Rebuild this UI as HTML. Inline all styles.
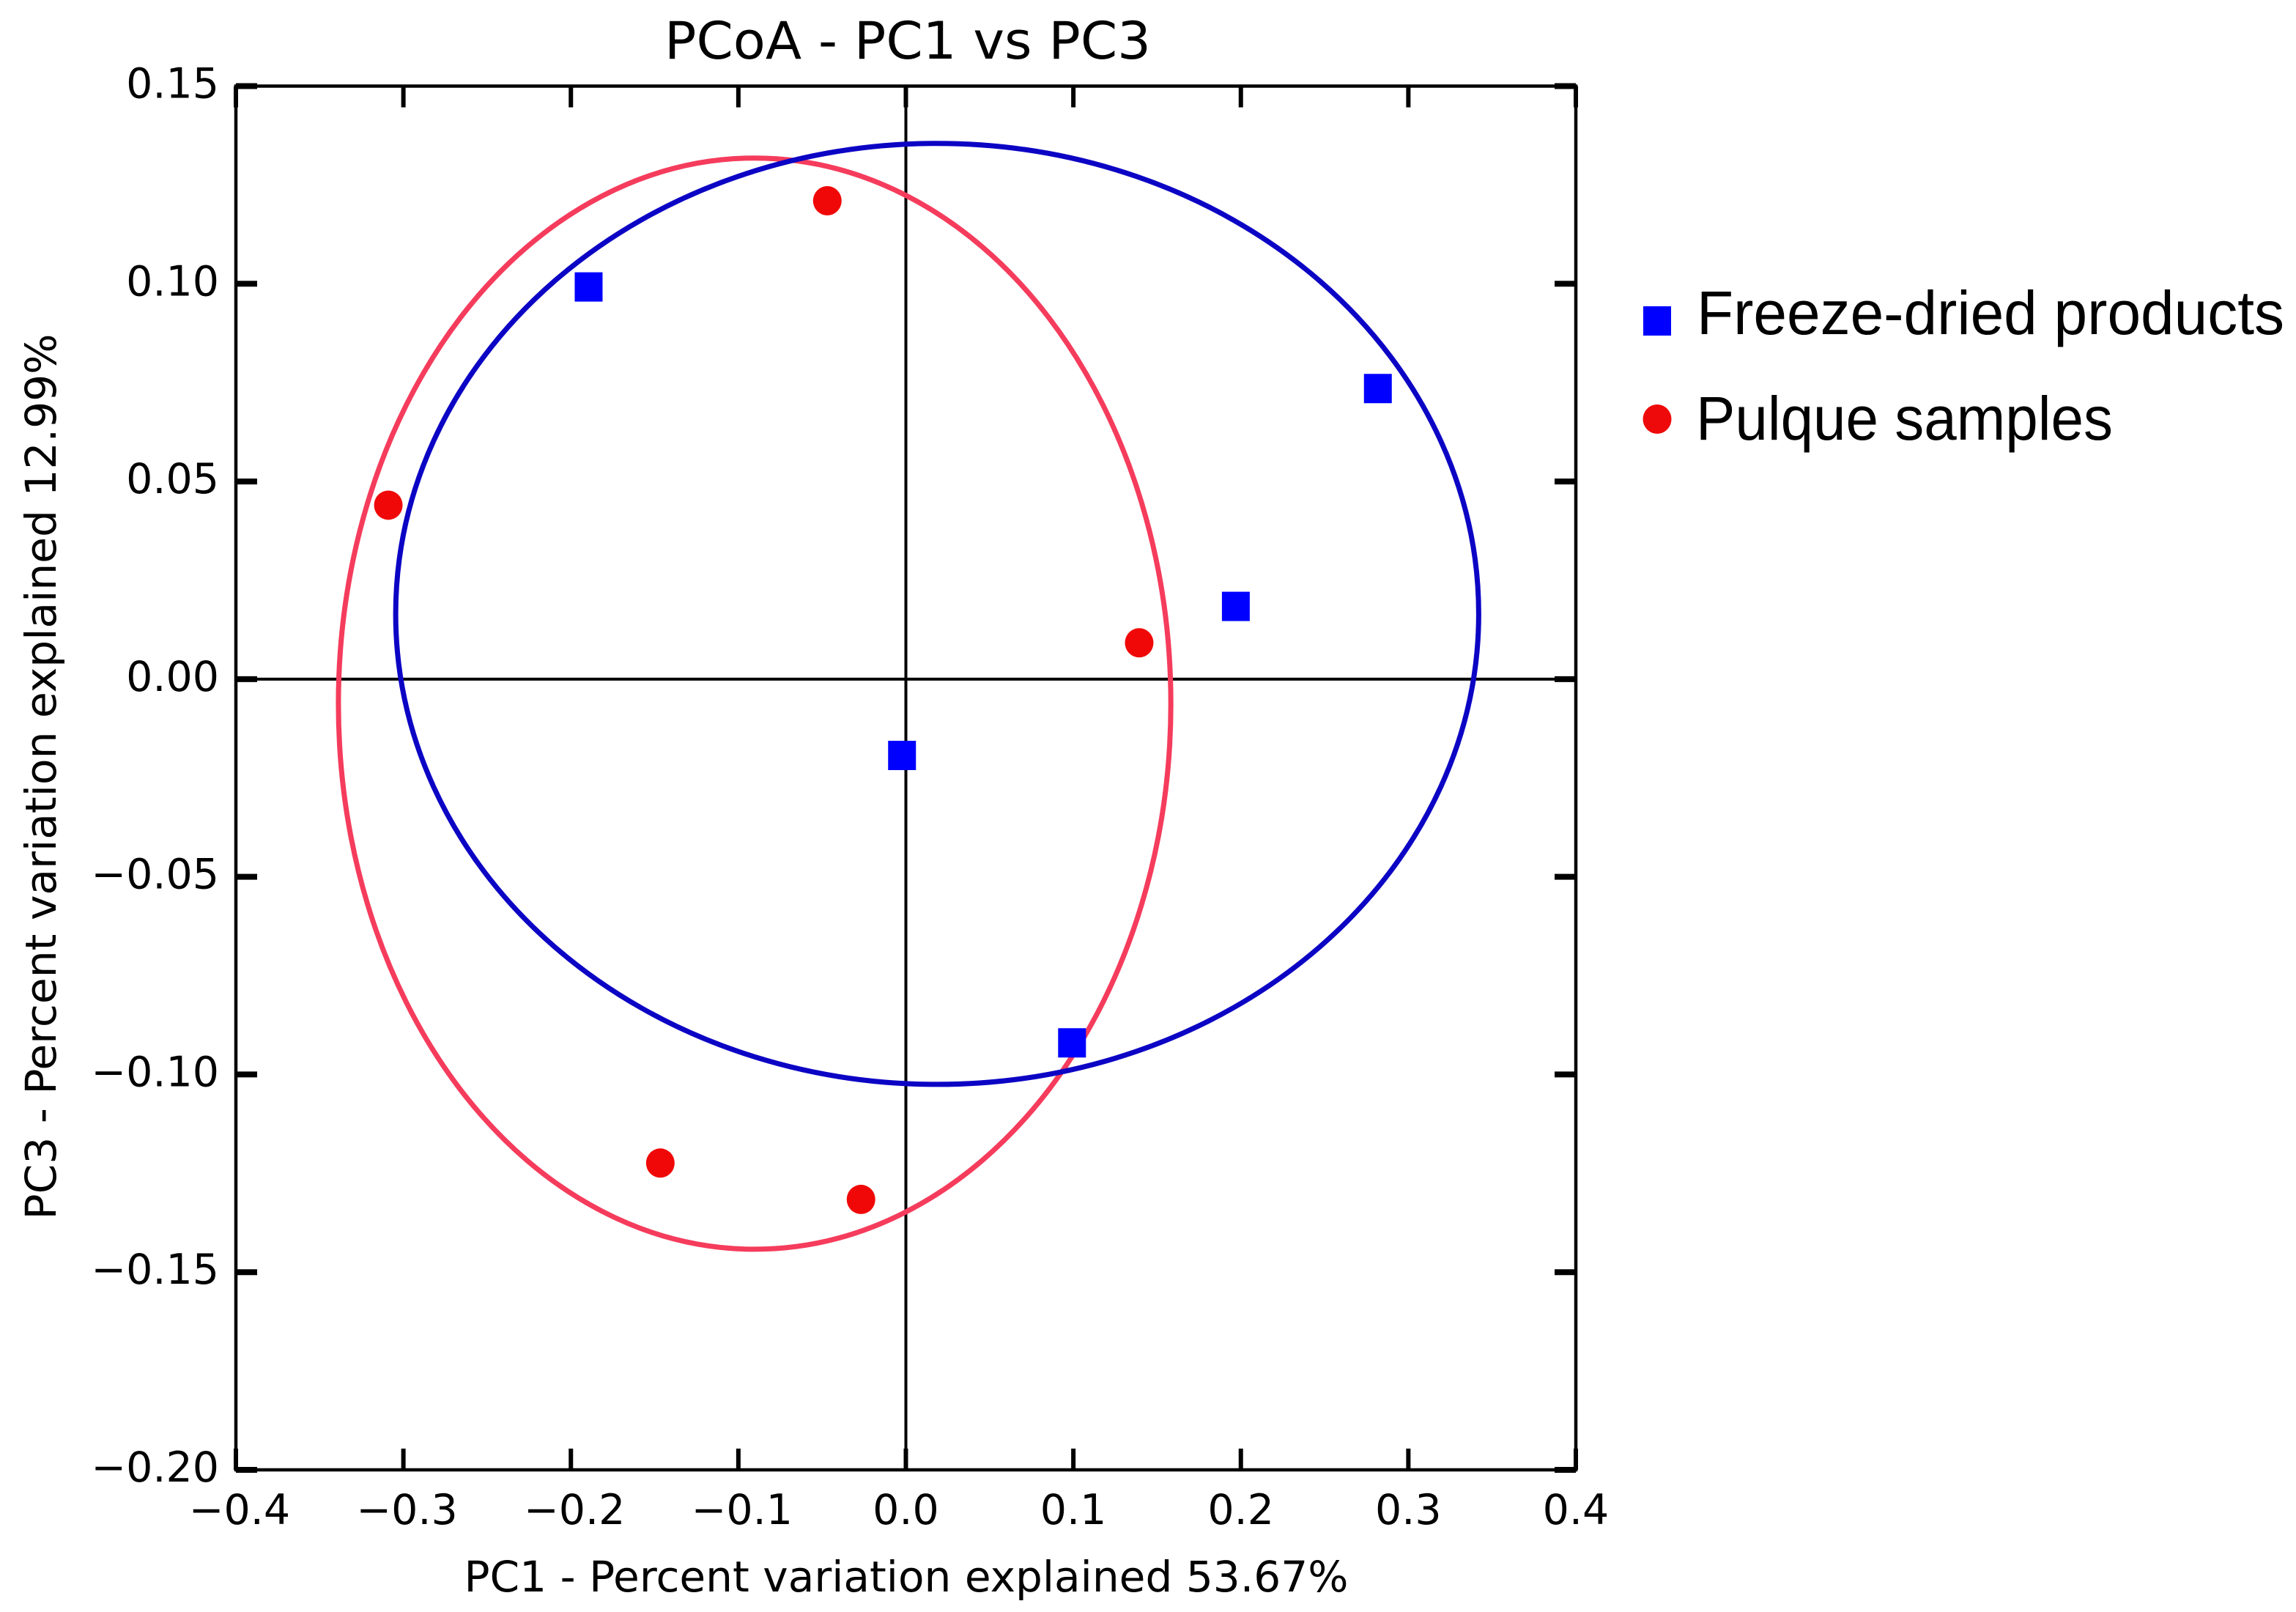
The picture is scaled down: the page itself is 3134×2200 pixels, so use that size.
<!DOCTYPE html>
<html lang="en">
<head>
<meta charset="utf-8">
<title>PCoA - PC1 vs PC3</title>
<style>
html,body{margin:0;padding:0;background:#fff;width:3134px;height:2200px;overflow:hidden}
svg{display:block}
text{font-family:"DejaVu Sans","Liberation Sans",sans-serif;fill:#000}
.legend-text{font-family:"Liberation Sans",sans-serif}
</style>
</head>
<body>
<svg id="chart" xmlns="http://www.w3.org/2000/svg" width="3134" height="2200" viewBox="0 0 3134 2200">
  <rect x="0" y="0" width="3134" height="2200" fill="#fff"/>
  <g id="plot"></g>
  <text x="1239" y="80" font-size="70" text-anchor="middle" textLength="664" lengthAdjust="spacingAndGlyphs">PCoA - PC1 vs PC3</text>
  <text x="1237" y="2172" font-size="58" text-anchor="middle" textLength="1207" lengthAdjust="spacingAndGlyphs">PC1 - Percent variation explained 53.67%</text>
  <text transform="translate(76 1060) rotate(-90)" x="0" y="0" font-size="58" text-anchor="middle" textLength="1209" lengthAdjust="spacingAndGlyphs">PC3 - Percent variation explained 12.99%</text>
  <g>
    <rect x="2243" y="418" width="38" height="40" fill="#0000ff"/>
    <text class="legend-text" x="2316" y="456" font-size="84" textLength="802" lengthAdjust="spacingAndGlyphs">Freeze-dried products</text>
    <ellipse cx="2262" cy="572" rx="19.5" ry="20" fill="#ee0a0a"/>
    <text class="legend-text" x="2315" y="600" font-size="84" textLength="569" lengthAdjust="spacingAndGlyphs">Pulque samples</text>
  </g>
</svg>
<script>
const xTicks = [-0.4, -0.3, -0.2, -0.1, 0.0, 0.1, 0.2, 0.3, 0.4];
const xTickLabels = ['\u22120.4', '\u22120.3', '\u22120.2', '\u22120.1', '0.0', '0.1', '0.2', '0.3', '0.4'];
const yTicks = [0.15, 0.10, 0.05, 0.00, -0.05, -0.10, -0.15, -0.20];
const yTickLabels = ['0.15', '0.10', '0.05', '0.00', '\u22120.05', '\u22120.10', '\u22120.15', '\u22120.20'];

const freezeDriedPc1 = [-0.1894, 0.2818, 0.1970, -0.0023, 0.0992];
const freezeDriedPc3 = [0.0992, 0.0735, 0.0184, -0.0193, -0.0920];
const pulquePc1 = [-0.0469, -0.3090, 0.1393, -0.1466, -0.0268];
const pulquePc3 = [0.1210, 0.0440, 0.0092, -0.1224, -0.1316];

const freezeDriedEllipse = [0.0187, 0.0165, 0.3233, 0.1190];
const pulqueEllipse = [-0.0903, -0.0062, 0.2485, 0.1380];

const xMin = -0.4, xMax = 0.4, yMin = -0.2, yMax = 0.15;
const plotLeft = 322, plotRight = 2151, plotTop = 117.5, plotBottom = 2006;

function sx(v) { return plotLeft + (v - xMin) / (xMax - xMin) * (plotRight - plotLeft); }
function sy(v) { return plotBottom - (v - yMin) / (yMax - yMin) * (plotBottom - plotTop); }

const plot = document.getElementById('plot');
const NS = 'http://www.w3.org/2000/svg';
function mk(tag, attrs) {
  const node = document.createElementNS(NS, tag);
  for (const k in attrs) node.setAttribute(k, attrs[k]);
  plot.appendChild(node);
  return node;
}
function line(x1, y1, x2, y2, w, c) {
  return mk('line', { x1: x1, y1: y1, x2: x2, y2: y2, stroke: c || '#000', 'stroke-width': w });
}

let el;
el = line(plotLeft, sy(0), plotRight, sy(0), 4);


el = line(sx(0), plotTop, sx(0), plotBottom, 4);



function drawEllipse(spec, color, name) {
  const e = mk('ellipse', {
    cx: sx(spec[0]), cy: sy(spec[1]),
    rx: Math.abs(sx(spec[0] + spec[2]) - sx(spec[0])),
    ry: Math.abs(sy(spec[1] + spec[3]) - sy(spec[1])),
    fill: 'none', stroke: color, 'stroke-width': 7
  });
  
  
}
drawEllipse(pulqueEllipse, '#f53c5c', 'ellipse-pulque-samples');
drawEllipse(freezeDriedEllipse, '#0c04c4', 'ellipse-freeze-dried');

el = mk('rect', { x: plotLeft, y: plotTop, width: plotRight - plotLeft, height: plotBottom - plotTop, fill: 'none', stroke: '#000', 'stroke-width': 4.5 });



xTicks.forEach(function (v, i) {
  const x = sx(v);
  let t = line(x, plotBottom, x, plotBottom - 29, 6);
  
  
  t = line(x, plotTop, x, plotTop + 29, 6);
  
  
  const label = mk('text', { x: x + (v < 0 ? 5 : 0), y: 2080, 'font-size': 57, 'text-anchor': 'middle' });
  label.textContent = xTickLabels[i];
  
  
});

yTicks.forEach(function (v, i) {
  const y = sy(v);
  let t = line(plotLeft, y, plotLeft + 29, y, 8);
  
  
  t = line(plotRight, y, plotRight - 29, y, 8);
  
  
  const label = mk('text', { x: 299, y: y + 16, 'font-size': 57, 'text-anchor': 'end' });
  label.textContent = yTickLabels[i];
  
  
});

freezeDriedPc1.forEach(function (v, i) {
  const p = mk('rect', { x: sx(v) - 19, y: sy(freezeDriedPc3[i]) - 20, width: 38, height: 40, fill: '#0000ff' });
  
  
});
pulquePc1.forEach(function (v, i) {
  const p = mk('ellipse', { cx: sx(v), cy: sy(pulquePc3[i]), rx: 19.5, ry: 20, fill: '#f00808' });
  
  
});
</script>
</body>
</html>
